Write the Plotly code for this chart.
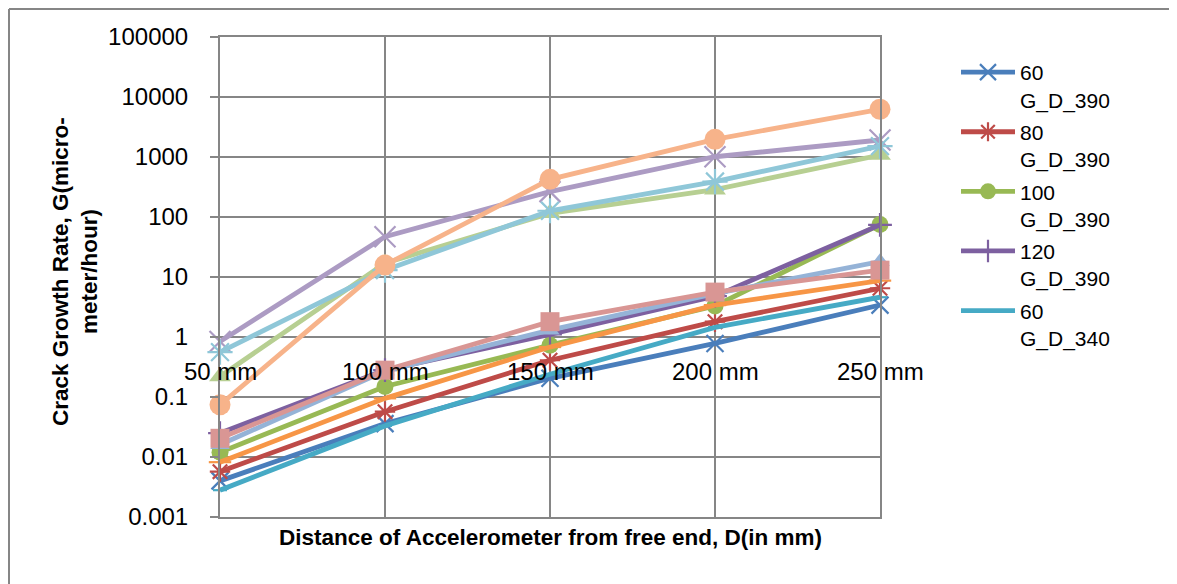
import plotly.graph_objects as go

categories = ["50 mm", "100 mm", "150 mm", "200 mm", "250 mm"]
y_tick_vals = [0.001, 0.01, 0.1, 1, 10, 100, 1000, 10000, 100000]
y_tick_text = ["0.001", "0.01", "0.1", "1", "10", "100", "1000", "10000", "100000"]

s60_390 = [0.0040, 0.036, 0.205, 0.78, 3.4]
s80_390 = [0.0057, 0.057, 0.41, 1.8, 6.5]
s100_390 = [0.012, 0.15, 0.73, 3.3, 75]
s120_390 = [0.025, 0.28, 1.1, 4.8, 74]
s60_340 = [0.0028, 0.033, 0.24, 1.45, 4.6]
s80_340 = [0.0082, 0.095, 0.68, 3.4, 8.7]
s100_340 = [0.016, 0.27, 1.3, 5.3, 18]
s120_340 = [0.0205, 0.28, 1.8, 5.6, 13]
s60_290 = [0.22, 17, 115, 285, 1080]
s80_290 = [0.84, 47, 265, 1010, 1920]
s100_290 = [0.56, 13, 127, 390, 1520]
s120_290 = [0.074, 15.8, 425, 1970, 6240]

series = [
    ("60<br>G_D_390", s60_390, "#4A7EBB", "x-thin-open", 17, True),
    ("80<br>G_D_390", s80_390, "#BE4B48", "asterisk-open", 17, True),
    ("100<br>G_D_390", s100_390, "#98B954", "circle", 17, True),
    ("120<br>G_D_390", s120_390, "#7D60A0", "cross-thin-open", 17, True),
    ("60<br>G_D_340", s60_340, "#46AAC5", "line-ew-open", 10, True),
    ("80<br>G_D_340", s80_340, "#F79646", "line-ew-open", 16, False),
    ("100<br>G_D_340", s100_340, "#95B3D7", "triangle-up", 17, False),
    ("120<br>G_D_340", s120_340, "#D99694", "square", 19, False),
    ("60<br>G_D_290", s60_290, "#B7CF92", "triangle-up", 19, False),
    ("80<br>G_D_290", s80_290, "#AC9BC3", "x-thin-open", 21, False),
    ("100<br>G_D_290", s100_290, "#8FC7D8", "asterisk-open", 21, False),
    ("120<br>G_D_290", s120_290, "#F7B38A", "circle", 21, False),
]

grid = "#868686"
font_family = "Liberation Sans, Arial, sans-serif"

fig = go.Figure()
for i, (name, vals, color, sym, size, show) in enumerate(series):
    open_sym = sym.endswith("-open")
    fig.add_trace(go.Scatter(
        x=categories, y=vals, name=name, mode="lines+markers",
        line=dict(color=color, width=4.8),
        marker=dict(symbol=sym, size=size, color=color,
                    line=dict(color=color, width=2.2 if open_sym else 0)),
        cliponaxis=False, showlegend=show, legendgroup="g%d" % i,
    ))

# page body adds an 8px margin; compensate so the picture lands where the reference is
OFF = 8
W, H = 1177 - OFF, 584 - OFF
L, R, T, B = 220 - OFF, 880 - OFF, 37 - OFF, 517 - OFF
pw, ph = R - L, B - T

def px_x(p):
    return (p - OFF - L) / pw

def px_y(p):
    return (B - (p - OFF)) / ph

annotations = []
for c in categories:
    annotations.append(dict(x=c, y=0, xref="x", yref="y", text=c, showarrow=False,
                            yanchor="middle", xanchor="center", yshift=-34,
                            font=dict(size=24, color="black", family=font_family)))
annotations.append(dict(x=0.5, y=px_y(537), xref="paper", yref="paper",
                        text="<b>Distance of Accelerometer from free end, D(in mm)</b>",
                        showarrow=False, xanchor="center", yanchor="middle",
                        font=dict(size=22.5, color="black", family=font_family)))
annotations.append(dict(x=px_x(75), y=px_y(272), xref="paper", yref="paper",
                        text="<b>Crack Growth Rate, G(micro-<br>meter/hour)</b>",
                        showarrow=False, xanchor="center", yanchor="middle", textangle=-90,
                        font=dict(size=22.5, color="black", family=font_family)))

shapes = [
    dict(type="line", xref="paper", yref="paper", x0=px_x(9), y0=px_y(9), x1=px_x(1200), y1=px_y(9),
         line=dict(color=grid, width=2)),
    dict(type="line", xref="paper", yref="paper", x0=px_x(9), y0=px_y(9), x1=px_x(9), y1=px_y(600),
         line=dict(color=grid, width=2)),
]

fig.update_layout(
    width=W, height=H,
    margin=dict(l=L, r=W - R, t=T, b=H - B, autoexpand=False),
    paper_bgcolor="white", plot_bgcolor="white",
    font=dict(family=font_family, color="black"),
    showlegend=True,
    legend=dict(x=px_x(956), y=px_y(52), xanchor="left", yanchor="top",
                font=dict(size=21, color="black", family=font_family),
                itemwidth=54, valign="top", tracegroupgap=2,
                bgcolor="rgba(0,0,0,0)"),
    annotations=annotations, shapes=shapes,
)
fig.update_xaxes(type="category", range=[0, len(categories) - 1], showgrid=True,
                 gridcolor=grid, gridwidth=2, showline=True, linecolor=grid, linewidth=2,
                 mirror=True, showticklabels=False, ticks="", zeroline=False)
fig.update_yaxes(type="log", range=[-3, 5], tickvals=y_tick_vals, ticktext=y_tick_text,
                 showgrid=True, gridcolor=grid, gridwidth=2, showline=True, linecolor=grid,
                 linewidth=2, mirror=True, ticks="outside", ticklen=8, tickcolor=grid,
                 tickwidth=2, ticklabelstandoff=17, zeroline=False,
                 tickfont=dict(size=24, color="black", family=font_family))

fig.write_html("out.html")
